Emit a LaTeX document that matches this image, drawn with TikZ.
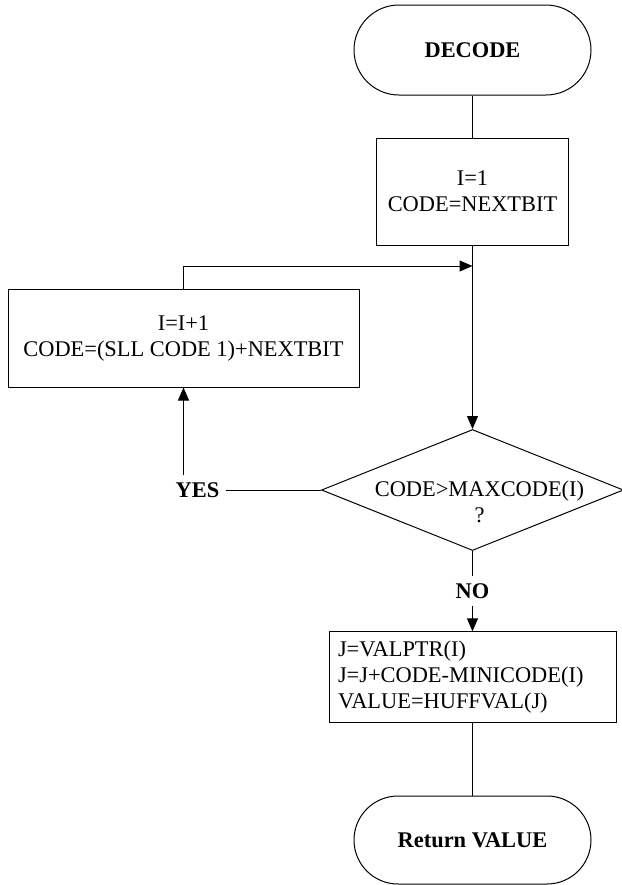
\documentclass[tikz,border=0pt]{standalone}
\usepackage{fontspec}
\setmainfont{Liberation Serif}
\usetikzlibrary{arrows.meta}
\usetikzlibrary{shapes.geometric}

\begin{document}
\begin{tikzpicture}[x=0.5pt,y=-0.5pt,line width=0.5pt,
    every node/.style={font=\fontsize{11.2}{13}\selectfont},
    term/.style={draw,rounded corners=22.5pt,minimum width=118.5pt,minimum height=45pt,
        font=\fontsize{11.2}{13}\selectfont\bfseries},
    proc/.style={draw,align=center,inner sep=0pt},
    decision/.style={draw,diamond,minimum width=151pt,minimum height=60.5pt,inner sep=0pt},
    answer/.style={font=\fontsize{11.2}{13}\selectfont\bfseries},
    flow/.style={-{Triangle[length=6.5pt,width=5.5pt]}}]
\useasboundingbox (0,0) rectangle (622,885);

\node[term] (decode) at (472.5,50) {DECODE};
\node[proc,minimum width=96pt,minimum height=53.5pt] (init) at (472.5,191.5) {I=1\\CODE=NEXTBIT};
\node[proc,minimum width=175.5pt,minimum height=49pt] (incr) at (183.5,338) {I=I+1\\CODE=(SLL CODE 1)+NEXTBIT};
\node[decision,label={[align=center,xshift=3.5pt,yshift=-6pt]center:CODE>MAXCODE(I)\\?}] (test) at (472.5,490) {};
\node[answer] (yes) at (197.5,490) {YES};
\node[answer] (no) at (472.5,591) {NO};
\node[proc,align=left,text width=134.5pt,inner sep=4.5pt,minimum height=45pt] (out) at (472.5,677)
    {J=VALPTR(I)\\J=J+CODE-MINICODE(I)\\VALUE=HUFFVAL(J)};
\node[term,minimum height=44pt,rounded corners=22pt] (ret) at (472.5,840) {Return VALUE};
\coordinate (merge) at (472.5,266);

\draw (decode) -- (init);
\draw[flow] (init) -- (test);
\draw[flow] (incr.north) |- (merge);
\draw (test.west) -- (yes.east);
\draw[flow] (yes.north -| incr.south) -- (incr.south);
\draw (test.south) -- (no.north);
\draw[flow] (no.south) -- (out.north);
\draw (out.south) -- (ret.north);
\end{tikzpicture}
\end{document}
